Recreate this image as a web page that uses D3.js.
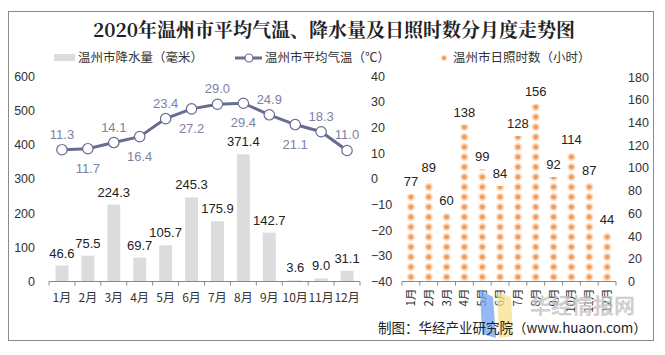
<!DOCTYPE html>
<html><head><meta charset="utf-8">
<script src="https://cdn.jsdelivr.net/npm/d3@7/dist/d3.min.js"></script>
<style>
body{margin:0;background:#fff;}
svg text{font-family:"Liberation Sans","Noto Sans CJK SC",Arial,sans-serif;}
</style></head>
<body>
<svg id="c" width="665" height="355"></svg>
<script>
const months = ["1月","2月","3月","4月","5月","6月","7月","8月","9月","10月","11月","12月"];
const rain = [46.6, 75.5, 224.3, 69.7, 105.7, 245.3, 175.9, 371.4, 142.7, 3.6, 9.0, 31.1];
const temp = [11.3, 11.7, 14.1, 16.4, 23.4, 27.2, 29.0, 29.4, 24.9, 21.1, 18.3, 11.0];
const sun = [77, 89, 60, 138, 99, 84, 128, 156, 92, 114, 87, 44];
const rainTicks = [0,100,200,300,400,500,600];
const tempTicks = [-40,-30,-20,-10,0,10,20,30,40];
const sunTicks = [0,20,40,60,80,100,120,140,160,180];

const svg = d3.select("#c");
const cjk = '"Noto Sans CJK SC","Liberation Sans",sans-serif';

svg.append("rect").attr("x",0).attr("y",0).attr("width",665).attr("height",355).attr("fill","#fff");
svg.append("rect").attr("x",8.5).attr("y",11.5).attr("width",645).attr("height",329)
  .attr("fill","none").attr("stroke","#8c8c8c").attr("stroke-width",1);

// defs
const defs = svg.append("defs");
const rg = defs.append("radialGradient").attr("id","dotg");
rg.append("stop").attr("offset","0%").attr("stop-color","#f0954f");
rg.append("stop").attr("offset","45%").attr("stop-color","#f3a46a");
rg.append("stop").attr("offset","60%").attr("stop-color","#fbd6b8");
rg.append("stop").attr("offset","100%").attr("stop-color","#fff3ea");

// title
svg.append("text").attr("x",334).attr("y",37).attr("text-anchor","middle")
  .style("font-family",'"Noto Serif CJK SC","Noto Sans CJK SC",serif').style("font-weight","bold")
  .style("font-size","19px").attr("fill","#222").text("2020年温州市平均气温、降水量及日照时数分月度走势图");

// legends
const lg = svg.append("g").style("font-family",cjk).style("font-size","12.5px").attr("fill","#333");
lg.append("rect").attr("x",54).attr("y",54).attr("width",21).attr("height",7).attr("fill","#dcdcdc");
lg.append("text").attr("x",78).attr("y",62).text("温州市降水量（毫米）");
lg.append("line").attr("x1",235).attr("x2",262).attr("y1",58).attr("y2",58).attr("stroke","#686c92").attr("stroke-width",3);
lg.append("circle").attr("cx",249).attr("cy",58).attr("r",4).attr("fill","#fff").attr("stroke","#686c92").attr("stroke-width",1.2);
lg.append("text").attr("x",265).attr("y",62).text("温州市平均气温（℃）");
lg.append("circle").attr("cx",444).attr("cy",58).attr("r",3.5).attr("fill","url(#dotg)");
lg.append("text").attr("x",453).attr("y",62).text("温州市日照时数（小时）");

// left chart scales
const y0 = 281.5, yTop = 76;
const xL = d3.scaleBand().domain(months).range([49,360]).paddingInner(0.5).paddingOuter(0.25);
const xLb = d3.scaleBand().domain(months).range([49,360]);
const yRain = d3.scaleLinear().domain([0,600]).range([y0,yTop]);
const yTemp = d3.scaleLinear().domain([-40,40]).range([y0,yTop]);

// left axis labels
svg.append("g").attr("transform","translate(41,0)")
  .call(d3.axisLeft(yRain).tickValues(rainTicks).tickSize(0).tickPadding(6))
  .call(g=>g.select(".domain").remove())
  .call(g=>g.selectAll("text").attr("fill","#333").style("font-size","12.5px").style("font-family",'"Liberation Sans",Arial'));
svg.append("g").attr("transform","translate(365,0)")
  .call(d3.axisRight(yTemp).tickValues(tempTicks).tickSize(0).tickPadding(6))
  .call(g=>g.select(".domain").remove())
  .call(g=>g.selectAll("text").attr("fill","#333").style("font-size","12.5px").style("font-family",'"Liberation Sans",Arial'));

// bars
svg.append("g").selectAll("rect").data(rain).join("rect")
  .attr("x",(d,i)=>xL(months[i])).attr("width",xL.bandwidth())
  .attr("y",d=>yRain(d)).attr("height",d=>y0-yRain(d)).attr("fill","#dcdcdc");
svg.append("g").selectAll("text").data(rain).join("text")
  .attr("x",(d,i)=>xL(months[i])+xL.bandwidth()/2).attr("y",d=>yRain(d)-8)
  .attr("text-anchor","middle").attr("fill","#222").style("font-size","13px")
  .text(d=>d.toFixed(1));

// x axis left
const axL = svg.append("g").attr("transform",`translate(0,${y0})`);
axL.append("line").attr("x1",49).attr("x2",360).attr("stroke","#888");
axL.selectAll("line.t").data(d3.range(13)).join("line").attr("class","t")
  .attr("x1",i=>49+i*xLb.step()).attr("x2",i=>49+i*xLb.step()).attr("y1",0).attr("y2",4).attr("stroke","#888");
axL.selectAll("text").data(months).join("text")
  .attr("x",d=>xLb(d)+xLb.bandwidth()/2).attr("y",20).attr("text-anchor","middle")
  .attr("fill","#333").style("font-size","12px").style("font-family",cjk).text(d=>d);

// line
const cx = i=>xLb(months[i])+xLb.bandwidth()/2;
const line = d3.line().x((d,i)=>cx(i)).y(d=>yTemp(d));
svg.append("path").datum(temp).attr("d",line).attr("fill","none").attr("stroke","#686c92").attr("stroke-width",3);
svg.append("g").selectAll("circle").data(temp).join("circle")
  .attr("cx",(d,i)=>cx(i)).attr("cy",d=>yTemp(d)).attr("r",5.2)
  .attr("fill","#fff").attr("stroke","#686c92").attr("stroke-width",1.2);
svg.append("g").selectAll("text").data(temp).join("text")
  .attr("x",(d,i)=>cx(i)).attr("y",(d,i)=>(i%2===0||i===11)? yTemp(d)-11 : yTemp(d)+24)
  .attr("text-anchor","middle").attr("fill","#7d81a2").style("font-size","13px")
  .text(d=>d.toFixed(1));

// right chart
const xR = d3.scaleBand().domain(months).range([402,616]);
const ySun = d3.scaleLinear().domain([0,180]).range([y0,yTop+1]);
svg.append("g").attr("transform","translate(622,0)")
  .call(d3.axisRight(ySun).tickValues(sunTicks).tickSize(0).tickPadding(6))
  .call(g=>g.select(".domain").remove())
  .call(g=>g.selectAll("text").attr("fill","#333").style("font-size","12.5px").style("font-family",'"Liberation Sans",Arial'));

const dotG = svg.append("g");
sun.forEach((v,i)=>{
  const top = ySun(v);
  const id = "clip"+i;
  defs.append("clipPath").attr("id",id).append("rect")
    .attr("x",xR(months[i])).attr("width",xR.bandwidth()).attr("y",top).attr("height",y0-top);
  const n = Math.ceil((y0-top)/10);
  const g = dotG.append("g").attr("clip-path",`url(#${id})`);
  g.selectAll("circle").data(d3.range(n)).join("circle")
    .attr("cx",xR(months[i])+xR.bandwidth()/2).attr("cy",k=>y0-4.5-k*10).attr("r",4.6)
    .attr("fill","url(#dotg)");
});
svg.append("g").selectAll("text").data(sun).join("text")
  .attr("x",(d,i)=>xR(months[i])+xR.bandwidth()/2).attr("y",d=>ySun(d)-8)
  .attr("text-anchor","middle").attr("fill","#222").style("font-size","13px").text(d=>d);

const axR = svg.append("g").attr("transform",`translate(0,${y0})`);
axR.append("line").attr("x1",402).attr("x2",616).attr("stroke","#888");
axR.selectAll("line.t").data(d3.range(13)).join("line").attr("class","t")
  .attr("x1",i=>402+i*xR.step()).attr("x2",i=>402+i*xR.step()).attr("y1",0).attr("y2",4).attr("stroke","#888");
axR.selectAll("text").data(months).join("text")
  .attr("transform",d=>`translate(${xR(d)+xR.bandwidth()/2+4},7) rotate(-90)`)
  .attr("text-anchor","end").attr("fill","#333").style("font-size","11.5px").style("font-family",cjk).text(d=>d);

// watermark
const wm = svg.append("g");
wm.append("path").attr("d","M480,290 L493,297 L496,338 L482,334 Z").attr("fill","#6fa3f0").attr("opacity",0.75);
wm.append("path").attr("d","M497,292 L511,297 L513,336 L499,338 Z").attr("fill","#f7e08a").attr("opacity",0.75);
wm.append("text").attr("x",530).attr("y",313).style("font-family",cjk).style("font-weight","bold")
  .style("font-size","21px").attr("fill","#c4c4c4").attr("opacity",0.8).text("华经情报网");

// footer
svg.append("text").attr("x",378).attr("y",333).style("font-family",cjk).style("font-size","13.5px")
  .attr("fill","#222").text("制图：华经产业研究院（www.huaon.com）");
</script>
</body></html>
